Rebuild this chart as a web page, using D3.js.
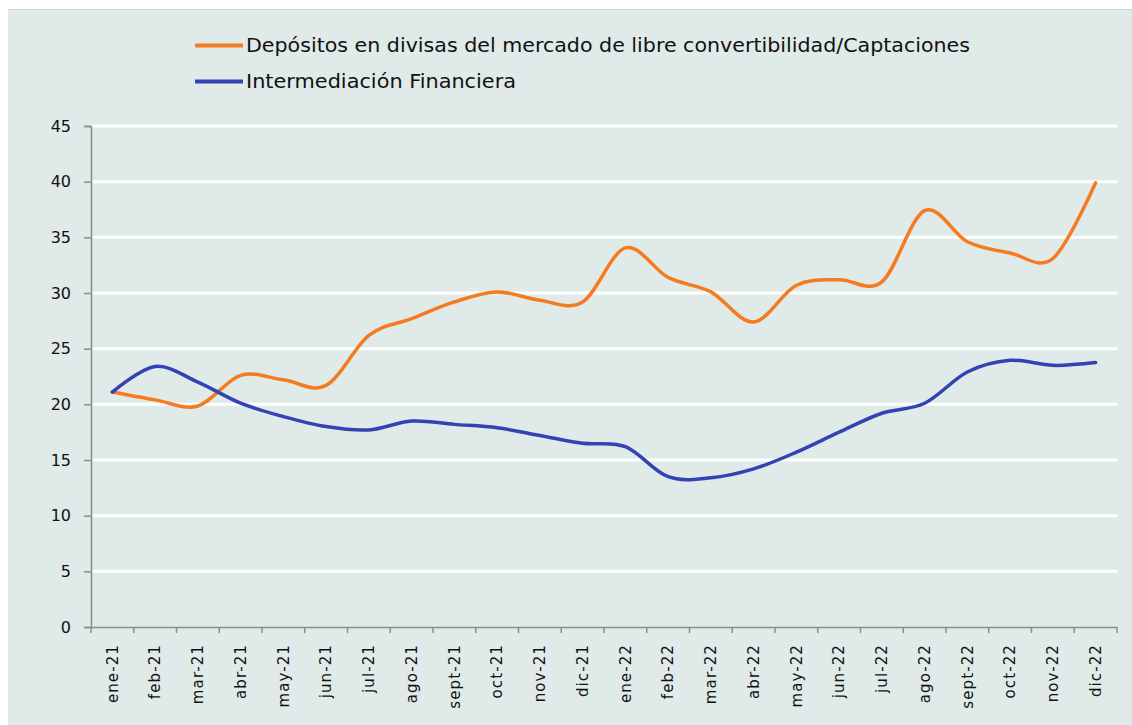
<!DOCTYPE html>
<html><head><meta charset="utf-8">
<script src="https://cdn.jsdelivr.net/npm/d3@7"></script>
<style>body{margin:0;background:#fff}svg{display:block}</style>
</head><body>
<svg id="c" width="1132" height="725"></svg>
<script>
const categories = ["ene-21","feb-21","mar-21","abr-21","may-21","jun-21","jul-21","ago-21","sept-21","oct-21","nov-21","dic-21",
  "ene-22","feb-22","mar-22","abr-22","may-22","jun-22","jul-22","ago-22","sept-22","oct-22","nov-22","dic-22"];
const depositos = [21.1,20.4,19.85,22.6,22.2,21.7,26.2,27.7,29.2,30.1,29.35,29.2,
  34.05,31.4,30.1,27.4,30.7,31.2,31.0,37.4,34.6,33.6,33.1,39.9];
const intermediacion = [21.1,23.4,22.0,20.1,18.9,18.0,17.7,18.5,18.2,17.9,17.2,16.5,
  16.2,13.5,13.4,14.2,15.7,17.5,19.2,20.1,22.9,23.95,23.5,23.75];
const yTicks = [0,5,10,15,20,25,30,35,40,45];
const seriesNames = ["Depósitos en divisas del mercado de libre convertibilidad/Captaciones","Intermediación Financiera"];
const seriesColors = ["#f47b20","#3343b3"];

(function(){
const svg = d3.select("#c");
svg.append("rect").attr("x",8).attr("y",9).attr("width",1124).attr("height",716).attr("fill","#dfeae9");
svg.append("line").attr("x1",8).attr("x2",1132).attr("y1",9.5).attr("y2",9.5).attr("stroke","#ccd6d5").attr("stroke-width",1);

const mLeft = 91, mRight = 1117, mTop = 126, mBottom = 627;
const x = d3.scaleBand().domain(categories).range([mLeft, mRight]);
const y = d3.scaleLinear().domain([0,45]).range([mBottom, mTop]);

// gridlines
svg.append("g").selectAll("line").data(yTicks.filter(d=>d>0)).join("line")
  .attr("x1",mLeft+1).attr("x2",mRight).attr("y1",d=>y(d)).attr("y2",d=>y(d))
  .attr("stroke","#ffffff").attr("stroke-width",3);

// y axis
const yAxis = svg.append("g").attr("transform",`translate(${mLeft},0)`)
  .call(d3.axisLeft(y).tickValues(yTicks).tickSize(7).tickPadding(13));
yAxis.select(".domain").attr("stroke","#8c8c8c").attr("stroke-width",1.5);
yAxis.selectAll(".tick line").attr("stroke","#8c8c8c").attr("stroke-width",1.5);
yAxis.selectAll("text").attr("font-family","DejaVu Sans").attr("font-size",16).attr("fill","#111");

// x axis
const xAxis = svg.append("g").attr("transform",`translate(0,${mBottom})`)
  .call(d3.axisBottom(x).tickSize(0).tickSizeOuter(0));
xAxis.select(".domain").attr("stroke","#8c8c8c").attr("stroke-width",1.5);
xAxis.selectAll(".tick text")
  .attr("font-family","DejaVu Sans").attr("font-size",15).attr("fill","#111")
  .attr("letter-spacing","1.1px")
  .attr("transform","rotate(-90)").attr("text-anchor","end")
  .attr("x",-17).attr("y",0).attr("dy","0.35em");
// category boundary ticks
const bounds = categories.map(c=>x(c)).concat([mRight]);
svg.append("g").selectAll("line").data(bounds).join("line")
  .attr("x1",d=>d).attr("x2",d=>d).attr("y1",mBottom).attr("y2",mBottom+6)
  .attr("stroke","#8c8c8c").attr("stroke-width",1.5);

// lines
const line = d3.line().x((d,i)=>x(categories[i])+x.bandwidth()/2).y(d=>y(d))
  .curve(d3.curveCardinal.tension(0));
[depositos, intermediacion].forEach((s,k)=>{
  svg.append("path").datum(s).attr("d",line).attr("fill","none")
    .attr("stroke",seriesColors[k]).attr("stroke-width",3.5).attr("stroke-linecap","round");
});

// legend
const leg = svg.append("g");
const legY = [45.5, 81.5];
const legW = [724, 270];
seriesNames.forEach((n,k)=>{
  leg.append("line").attr("x1",195).attr("x2",243).attr("y1",legY[k]).attr("y2",legY[k])
    .attr("stroke",seriesColors[k]).attr("stroke-width",4);
  leg.append("text").attr("x",246).attr("y",legY[k]).attr("dy","0.36em")
    .attr("font-family","DejaVu Sans").attr("font-size",19).attr("fill","#111")
    .attr("textLength",legW[k]).attr("lengthAdjust","spacingAndGlyphs").text(n);
});
})();
</script>
</body></html>
